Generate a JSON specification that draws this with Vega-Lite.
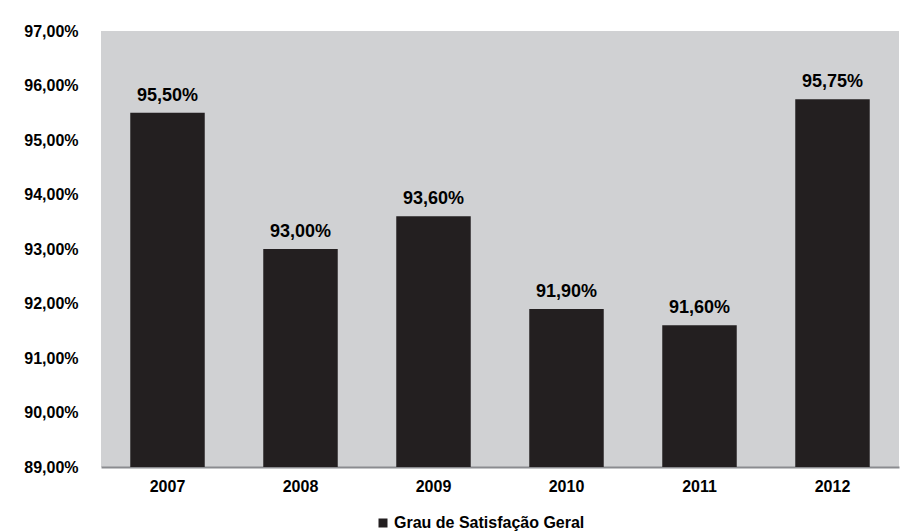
{
  "$schema": "https://vega.github.io/schema/vega-lite/v6.json",
  "autosize": "none",
  "width": 798,
  "height": 436,
  "padding": {"left": 101, "top": 31, "right": 14, "bottom": 65},
  "background": "white",
  "config": {
    "locale": {"number": {"decimal": ",", "thousands": ".", "grouping": [3], "currency": ["R$", ""]}},
    "view": {"fill": "#d0d1d3", "stroke": null},
    "font": "Liberation Sans"
  },
  "data": {
    "values": [
      {"ano": "2007", "valor": 0.955, "serie": "Grau de Satisfação Geral"},
      {"ano": "2008", "valor": 0.93, "serie": "Grau de Satisfação Geral"},
      {"ano": "2009", "valor": 0.936, "serie": "Grau de Satisfação Geral"},
      {"ano": "2010", "valor": 0.919, "serie": "Grau de Satisfação Geral"},
      {"ano": "2011", "valor": 0.916, "serie": "Grau de Satisfação Geral"},
      {"ano": "2012", "valor": 0.9575, "serie": "Grau de Satisfação Geral"}
    ]
  },
  "encoding": {
    "x": {
      "field": "ano", "type": "nominal",
      "scale": {"paddingInner": 0.44, "paddingOuter": 0.22},
      "axis": {
        "title": null, "labelAngle": 0, "ticks": false,
        "domainColor": "#8a8b8f", "domainWidth": 2,
        "labelFont": "Liberation Sans", "labelFontSize": 16, "labelFontWeight": "bold",
        "labelColor": "#000000", "labelPadding": 11
      }
    },
    "y": {
      "field": "valor", "type": "quantitative",
      "scale": {"domain": [0.89, 0.97], "zero": false, "nice": false},
      "axis": {
        "title": null, "format": ".2%", "domain": false, "ticks": false, "grid": false,
        "values": [0.89, 0.90, 0.91, 0.92, 0.93, 0.94, 0.95, 0.96, 0.97],
        "labelFont": "Liberation Sans", "labelFontSize": 16, "labelFontWeight": "bold",
        "labelColor": "#000000", "labelPadding": 23
      }
    }
  },
  "layer": [
    {
      "mark": {"type": "bar"},
      "encoding": {
        "y2": {"datum": 0.89},
        "color": {
          "field": "serie", "type": "nominal",
          "scale": {"range": ["#231f20"]},
          "legend": {
            "title": null, "orient": "none", "legendX": 274, "legendY": 484,
            "symbolType": "square", "symbolSize": 81, "symbolStrokeWidth": 0,
            "labelFont": "Liberation Sans", "labelFontSize": 16, "labelFontWeight": "bold",
            "labelColor": "#000000", "labelOffset": 3, "labelLimit": 0, "padding": 0
          }
        }
      }
    },
    {
      "mark": {"type": "text", "dy": -8, "baseline": "bottom", "font": "Liberation Sans", "fontSize": 18, "fontWeight": "bold", "color": "#000000"},
      "encoding": {
        "text": {"field": "valor", "type": "quantitative", "format": ".2%"}
      }
    }
  ]
}
